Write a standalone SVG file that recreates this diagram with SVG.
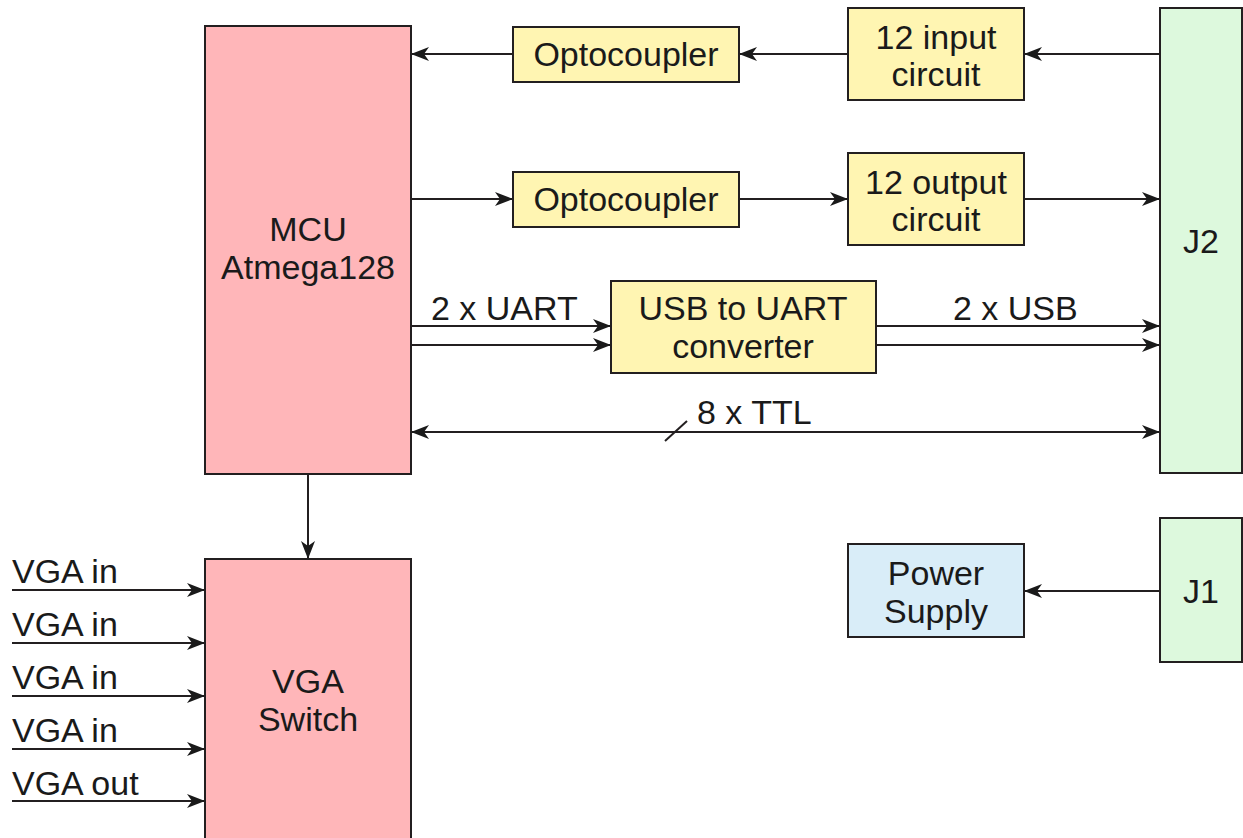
<svg xmlns="http://www.w3.org/2000/svg" width="1243" height="838" viewBox="0 0 1243 838">
<defs>
<marker id="ah" viewBox="0 0 18 14" refX="18" refY="7" markerWidth="18" markerHeight="14" markerUnits="userSpaceOnUse" orient="auto-start-reverse">
<path d="M0,0 L18,7 L0,14 L5,7 Z" fill="#1a1a1a"/>
</marker>
<style>
.box{stroke:#231f20;stroke-width:2}
.pink{fill:#ffb6b9}
.yel{fill:#fff5b2}
.grn{fill:#ddf9dd}
.blu{fill:#d9edf8}
text{font-family:"Liberation Sans",Arial,sans-serif;font-size:34px;fill:#1a1a1a}
.c{text-anchor:middle}
.ln{stroke:#231f20;stroke-width:2;fill:none}
.ar{marker-end:url(#ah)}
</style>
</defs>
<rect width="1243" height="838" fill="#fff"/>
<g id="connectors">
<line class="ln ar" x1="513" y1="54" x2="411" y2="54"/>
<line class="ln ar" x1="848" y1="54" x2="739" y2="54"/>
<line class="ln ar" x1="1160" y1="54" x2="1024" y2="54"/>
<line class="ln ar" x1="411" y1="199" x2="513" y2="199"/>
<line class="ln ar" x1="739" y1="199" x2="848" y2="199"/>
<line class="ln ar" x1="1024" y1="199" x2="1160" y2="199"/>
<line class="ln ar" x1="411" y1="326" x2="611" y2="326"/>
<line class="ln ar" x1="411" y1="345" x2="611" y2="345"/>
<line class="ln ar" x1="876" y1="326" x2="1160" y2="326"/>
<line class="ln ar" x1="876" y1="345" x2="1160" y2="345"/>
<line class="ln" x1="411" y1="432" x2="1160" y2="432" marker-start="url(#ah)" marker-end="url(#ah)"/>
<line class="ln" x1="665" y1="441" x2="687" y2="421"/>
<line class="ln ar" x1="308" y1="474" x2="308" y2="559"/>
<line class="ln ar" x1="12" y1="590" x2="205" y2="590"/>
<line class="ln ar" x1="12" y1="643" x2="205" y2="643"/>
<line class="ln ar" x1="12" y1="696" x2="205" y2="696"/>
<line class="ln ar" x1="12" y1="749" x2="205" y2="749"/>
<line class="ln ar" x1="12" y1="801" x2="205" y2="801"/>
<line class="ln ar" x1="1160" y1="591" x2="1024" y2="591"/>
<text x="431" y="320">2 x UART</text>
<text x="953" y="320">2 x USB</text>
<text x="697" y="424">8 x TTL</text>
<text x="12" y="583">VGA in</text>
<text x="12" y="636">VGA in</text>
<text x="12" y="689">VGA in</text>
<text x="12" y="742">VGA in</text>
<text x="12" y="795">VGA out</text>
</g>
<g id="mcu">
<rect class="box pink" x="205" y="26" width="206" height="448"/>
<text class="c" x="308" y="241">MCU</text>
<text class="c" x="308" y="279">Atmega128</text>
</g>
<g id="vga-switch">
<rect class="box pink" x="205" y="559" width="206" height="290"/>
<text class="c" x="308" y="693">VGA</text>
<text class="c" x="308" y="731">Switch</text>
</g>
<g id="opto1">
<rect class="box yel" x="513" y="27" width="226" height="55"/>
<text class="c" x="626" y="66">Optocoupler</text>
</g>
<g id="opto2">
<rect class="box yel" x="513" y="172" width="226" height="55"/>
<text class="c" x="626" y="211">Optocoupler</text>
</g>
<g id="input-circuit">
<rect class="box yel" x="848" y="8" width="176" height="92"/>
<text class="c" x="936" y="49">12 input</text>
<text class="c" x="936" y="86">circuit</text>
</g>
<g id="output-circuit">
<rect class="box yel" x="848" y="153" width="176" height="92"/>
<text class="c" x="936" y="194">12 output</text>
<text class="c" x="936" y="231">circuit</text>
</g>
<g id="usb-uart">
<rect class="box yel" x="611" y="281" width="265" height="92"/>
<text class="c" x="743" y="320">USB to UART</text>
<text class="c" x="743" y="358">converter</text>
</g>
<g id="j2">
<rect class="box grn" x="1160" y="8" width="82" height="465"/>
<text class="c" x="1201" y="253">J2</text>
</g>
<g id="j1">
<rect class="box grn" x="1160" y="518" width="82" height="144"/>
<text class="c" x="1201" y="603">J1</text>
</g>
<g id="power">
<rect class="box blu" x="848" y="544" width="176" height="93"/>
<text class="c" x="936" y="585">Power</text>
<text class="c" x="936" y="623">Supply</text>
</g>
</svg>
